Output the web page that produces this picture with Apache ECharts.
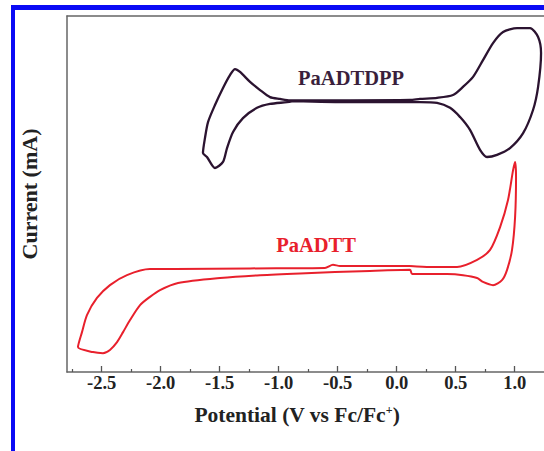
<!DOCTYPE html>
<html>
<head>
<meta charset="utf-8">
<script src="https://cdn.jsdelivr.net/npm/echarts@6/dist/echarts.min.js"></script>
<style>
html,body{margin:0;padding:0;background:#fff;}
#chart{width:544px;height:451px;}
</style>
</head>
<body>
<div id="chart"></div>
<script>
// Potential (V vs Fc/Fc+) and current (arbitrary units) for each CV loop
var dppPotential = [-0.879,-0.930,-1.074,-1.184,-1.303,-1.387,-1.438,-1.472,-1.540,-1.608,-1.642,-1.625,-1.599,-1.540,-1.472,-1.413,-1.370,-1.328,-1.243,-1.158,-1.074,-0.989,-0.904,-0.396,0.113,0.197,0.342,0.477,0.562,0.647,0.731,0.816,0.901,1.020,1.130,1.198,1.223,1.198,1.155,1.071,0.960,0.850,0.765,0.706,0.621,0.537,0.452,0.342,0.197,0.113,-0.396,-0.879];
var dppCurrent   = [76.1,75.8,75.3,74.2,71.3,67.4,62.9,59.0,57.3,60.4,61.5,65.7,70.2,75.0,79.8,83.4,85.1,84.3,81.5,79.2,77.2,76.7,76.3,76.3,76.4,76.7,77.0,77.8,80.1,82.9,87.6,92.4,95.5,96.6,96.6,94.1,89.6,80.1,73.6,67.1,62.9,61.0,60.4,62.4,68.0,71.6,74.2,75.6,75.8,75.8,75.8,76.1];

var ttPotential = [0.113,-0.481,-0.540,-0.608,-1.243,-1.879,-2.091,-2.286,-2.430,-2.540,-2.625,-2.667,-2.701,-2.574,-2.489,-2.430,-2.370,-2.319,-2.260,-2.175,-2.091,-2.006,-1.853,-1.497,-1.158,-0.820,-0.227,0.113,0.130,0.282,0.426,0.562,0.681,0.731,0.816,0.892,0.935,0.977,1.003,1.011,1.003,0.986,0.943,0.876,0.791,0.681,0.511,0.282,0.113];
var ttCurrent   = [29.8,29.8,30.1,29.2,29.1,28.9,28.9,27.2,24.4,20.8,16.0,11.2,7.0,5.6,5.3,6.2,8.4,11.2,14.6,18.8,21.1,23.0,25.0,26.4,27.2,27.7,28.4,28.7,27.5,27.5,27.5,27.2,26.4,25.3,24.4,25.8,28.7,34.3,43.5,54.8,59.0,56.7,48.3,40.7,34.3,31.5,29.5,29.5,29.8];

var majorTicks = [-2.5,-2.0,-1.5,-1.0,-0.5,0.0,0.5,1.0];
var minorTicks = [-2.75,-2.25,-1.75,-1.25,-0.75,-0.25,0.25,0.75];
var tickLabels = ['-2.5','-2.0','-1.5','-1.0','-0.5','0.0','0.5','1.0'];
var seriesNames = ['PaADTDPP','PaADTT'];
var labelPos = [[-0.387,82.6],[-0.684,35.7]];

var xMin = -2.794, xMax = 1.248;

function zip(a,b){ return a.map(function(v,i){ return [v,b[i]]; }); }

var chart = echarts.init(document.getElementById('chart'), null, {renderer:'svg'});
var font = 'Liberation Serif';
var boxLine = {color:'#666', width:1.5};
chart.setOption({
  animation:false,
  backgroundColor:'#ffffff',
  grid:{left:67, top:16, width:477, height:356, show:false},
  xAxis:[{
    type:'value', min:xMin, max:xMax, position:'bottom',
    axisLine:{show:true, onZero:false, lineStyle:boxLine},
    splitLine:{show:false},
    axisTick:{show:true, inside:true, length:6, lineStyle:{color:'#555', width:1.3}, customValues:majorTicks},
    axisLabel:{show:true, customValues:majorTicks, margin:1, fontFamily:font, fontWeight:'bold', fontSize:18.5, color:'#222',
      formatter:function(v){ var i = majorTicks.indexOf(Math.round(v*100)/100); return i>=0 ? tickLabels[i] : ''; }},
    name:'Potential (V vs Fc/Fc{sup|+})',
    nameLocation:'middle', nameGap:32,
    nameTextStyle:{fontFamily:font, fontWeight:'bold', fontSize:21.5, color:'#222', padding:[0,17,0,0],
      rich:{sup:{fontFamily:font, fontWeight:'bold', fontSize:12, color:'#222', verticalAlign:'top', padding:[0,0,10,0]}}}
  },{
    type:'value', min:xMin, max:xMax, position:'bottom',
    axisLine:{show:false, onZero:false}, splitLine:{show:false}, axisLabel:{show:false},
    axisTick:{show:true, inside:true, length:3, lineStyle:{color:'#555', width:1.2}, customValues:minorTicks}
  },{
    type:'value', min:xMin, max:xMax, position:'top',
    axisLine:{show:true, onZero:false, lineStyle:boxLine}, splitLine:{show:false}, axisLabel:{show:false}, axisTick:{show:false}
  }],
  yAxis:{
    type:'value', min:0, max:100, position:'left',
    axisLine:{show:true, onZero:false, lineStyle:boxLine}, axisTick:{show:false}, axisLabel:{show:false}, splitLine:{show:false},
    name:'Current (mA)', nameLocation:'middle', nameGap:27, nameRotate:90,
    nameTextStyle:{fontFamily:font, fontWeight:'bold', fontSize:22, color:'#222'}
  },
  series:[{
    name:seriesNames[0], type:'line', data:zip(dppPotential,dppCurrent), showSymbol:false, smooth:0.25,
    lineStyle:{color:'#2b1330', width:2.3}, clip:false,
    markPoint:{symbolSize:0, data:[{coord:labelPos[0], value:seriesNames[0]}],
      label:{show:true, position:'inside', formatter:seriesNames[0], fontFamily:font, fontWeight:'bold', fontSize:20.5, color:'#3a1f3c'}}
  },{
    name:seriesNames[1], type:'line', data:zip(ttPotential,ttCurrent), showSymbol:false, smooth:0.25,
    lineStyle:{color:'#e8202c', width:2}, clip:false,
    markPoint:{symbolSize:0, data:[{coord:labelPos[1], value:seriesNames[1]}],
      label:{show:true, position:'inside', formatter:seriesNames[1], fontFamily:font, fontWeight:'bold', fontSize:20.5, color:'#e8202c'}}
  }],
  graphic:[
    {type:'rect', shape:{x:11, y:5, width:533, height:5}, style:{fill:'#0a0af5'}, z:100},
    {type:'rect', shape:{x:11, y:5, width:4, height:446}, style:{fill:'#0a0af5'}, z:100}
  ]
});
</script>
</body>
</html>
